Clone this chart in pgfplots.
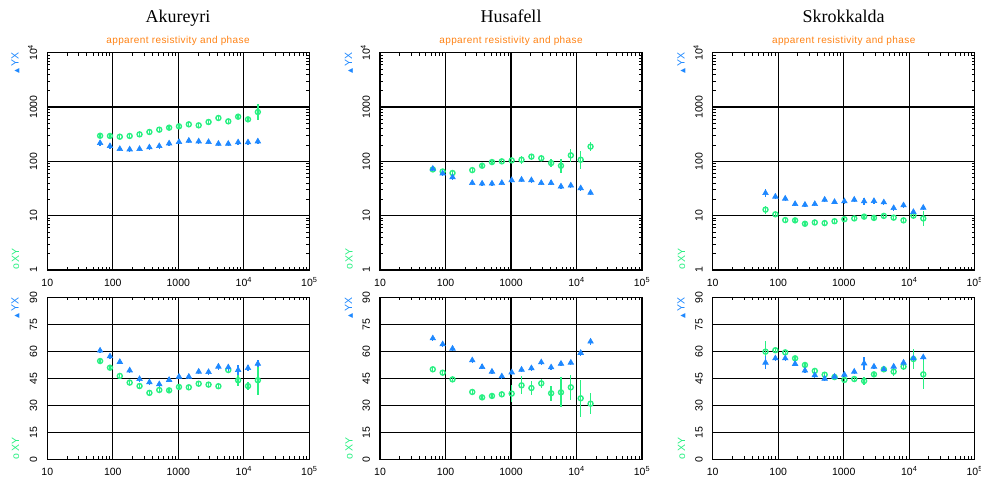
\documentclass[border=0pt]{standalone}
\usepackage{graphicx}
\usepackage{pgfplots}
\pgfplotsset{compat=1.18}
\usepackage{pgfplotstable}
\usepackage{fontspec}
\setmainfont{Liberation Serif}
\newfontfamily\lsans{Liberation Sans}
\newfontfamily\dejavu{DejaVu Sans}
\definecolor{myblue}{RGB}{30,136,255}
\definecolor{mygreen}{RGB}{40,240,130}
\definecolor{myorange}{RGB}{255,130,20}

% ---------------- Akureyri ----------------
\pgfplotstableread{
f v ep em
64 296 0.11 0.10
90.51 293 0.11 0.10
128 284 0.11 0.10
181.02 293 0.11 0.10
256 314 0.11 0.10
362.04 347 0.11 0.10
512 383 0.11 0.10
724.08 417 0.11 0.10
1024 441 0.11 0.10
1448.15 480 0.11 0.10
2048 460 0.11 0.10
2896.31 530 0.11 0.10
4096 628 0.11 0.10
5792.62 545 0.11 0.10
8192 664 0.122 0.109
11585.24 593 0.11 0.10
16384 809 0.403 0.287
}\AkRxy
\pgfplotstableread{
f v ep em
64 217 0.11 0.10
90.51 191 0.11 0.10
128 169 0.11 0.10
181.02 166 0.11 0.10
256 169 0.11 0.10
362.04 181 0.11 0.10
512 191 0.11 0.10
724.08 214 0.11 0.10
1024 227 0.11 0.10
1448.15 240 0.11 0.10
2048 233 0.11 0.10
2896.31 227 0.11 0.10
4096 211 0.11 0.10
5792.62 211 0.11 0.10
8192 224 0.12 0.11
11585.24 224 0.11 0.10
16384 233 0.11 0.10
}\AkRyx
\pgfplotstableread{
f v e
64 54.6 1.4
90.51 50.9 1.4
128 46.3 1.4
181.02 42.6 1.4
256 40.7 1.4
362.04 36.9 1.4
512 38.5 1.4
724.08 38.3 1.4
1024 40.2 1.4
1448.15 40.0 1.4
2048 42.0 1.4
2896.31 41.5 1.5
4096 40.6 1.4
5792.62 49.6 1.9
8192 43.9 3.3
11585.24 40.7 2.4
16384 43.9 8.3
}\AkPxy
\pgfplotstableread{
f v e
64 60.4 1.4
90.51 57.2 1.4
128 54.1 1.4
181.02 49.4 1.4
256 44.6 1.4
362.04 42.8 1.4
512 41.7 1.4
724.08 44.1 1.4
1024 45.9 1.4
1448.15 45.9 1.4
2048 48.7 1.4
2896.31 48.5 1.6
4096 51.5 1.8
5792.62 51.1 1.8
8192 49.6 2.8
11585.24 50.7 1.6
16384 53.1 2.0
}\AkPyx

% ---------------- Husafell ----------------
\pgfplotstableread{
f v ep em
64 71 0.11 0.10
90.51 65 0.11 0.10
128 61 0.11 0.10
256 69 0.11 0.10
362.04 83 0.11 0.10
512 97 0.11 0.10
724.08 100 0.122 0.109
1024 104 0.122 0.109
1448.15 107 0.175 0.149
2048 122 0.122 0.109
2896.31 114 0.11 0.10
4096 93 0.186 0.157
5792.62 83 0.349 0.259
8192 129 0.318 0.241
11585.24 107 0.479 0.324
16384 187 0.23 0.187
}\HuRxy
\pgfplotstableread{
f v ep em
64 73 0.11 0.10
90.51 60 0.11 0.10
128 51 0.11 0.10
256 40 0.11 0.10
362.04 39 0.11 0.10
512 39 0.11 0.10
724.08 40 0.11 0.10
1024 45 0.11 0.10
1448.15 46 0.11 0.10
2048 45 0.11 0.10
2896.31 40 0.11 0.10
4096 40 0.11 0.10
5792.62 34.5 0.11 0.10
8192 36 0.11 0.10
11585.24 32 0.11 0.10
16384 26.4 0.11 0.10
}\HuRyx
\pgfplotstableread{
f v e
64 50.0 1.4
90.51 48.1 1.4
128 44.4 1.4
256 37.4 1.5
362.04 34.4 1.4
512 35.2 1.4
724.08 36.1 1.5
1024 36.5 4.6
1448.15 41.1 5.0
2048 39.6 4.1
2896.31 42.2 2.6
4096 36.7 4.1
5792.62 37.2 8.3
8192 40.0 7.0
11585.24 33.9 10.2
16384 30.9 6.0
}\HuPxy
\pgfplotstableread{
f v e
64 67.2 1.4
90.51 63.9 1.4
128 61.5 1.4
256 55.0 1.4
362.04 51.3 1.4
512 48.7 1.4
724.08 46.1 1.4
1024 48.3 1.4
1448.15 49.8 1.4
2048 50.6 1.4
2896.31 53.9 1.4
4096 51.1 1.4
5792.62 53.1 1.4
8192 53.7 1.4
11585.24 59.1 1.6
16384 65.4 2.0
}\HuPyx

% ---------------- Skrokkalda ----------------
\pgfplotstableread{
f v ep em
64 12.9 0.186 0.157
90.51 10.6 0.11 0.10
128 8.3 0.11 0.10
181.02 8.2 0.11 0.10
256 7.1 0.11 0.10
362.04 7.5 0.11 0.10
512 7.3 0.11 0.10
724.08 7.9 0.11 0.10
1024 8.6 0.11 0.10
1448.15 8.9 0.11 0.10
2048 9.6 0.11 0.10
2896.31 9.1 0.11 0.10
4096 9.9 0.11 0.10
5792.62 9.2 0.11 0.10
8192 8.2 0.11 0.10
11585.24 10.0 0.148 0.129
16384 8.9 0.365 0.267
}\SkRxy
\pgfplotstableread{
f v ep em
64 26.1 0.186 0.157
90.51 22.4 0.11 0.10
128 20.6 0.11 0.10
181.02 16.4 0.11 0.10
256 15.9 0.11 0.10
362.04 16.4 0.11 0.10
512 19.7 0.11 0.10
724.08 17.9 0.11 0.10
1024 18.4 0.11 0.10
1448.15 19.7 0.11 0.10
2048 18.4 0.148 0.129
2896.31 18.6 0.11 0.10
4096 17.6 0.11 0.10
5792.62 13.8 0.11 0.10
8192 15.5 0.11 0.10
11585.24 11.7 0.11 0.10
16384 14.0 0.11 0.10
}\SkRyx
\pgfplotstableread{
f v e
64 59.8 6.1
90.51 60.6 1.4
128 59.4 1.4
181.02 56.1 1.4
256 52.4 1.4
362.04 49.1 1.4
512 47.0 1.4
724.08 45.7 1.4
1024 44.1 1.4
1448.15 44.6 1.4
2048 43.5 2.2
2896.31 47.2 1.4
4096 50.0 1.5
5792.62 48.7 2.2
8192 51.5 1.9
11585.24 55.7 5.6
16384 47.2 8.3
}\SkPxy
\pgfplotstableread{
f v e
64 53.7 3.7
90.51 56.1 1.4
128 56.1 1.4
181.02 53.0 1.4
256 49.3 1.4
362.04 46.7 1.4
512 44.8 1.4
724.08 45.9 1.4
1024 47.0 1.4
1448.15 48.7 1.4
2048 53.3 3.7
2896.31 51.5 1.4
4096 50.0 1.4
5792.62 51.5 1.4
8192 53.7 1.8
11585.24 56.1 1.4
16384 56.7 1.4
}\SkPyx

\pgfplotsset{every axis/.append style={
    scale only axis, width=262pt,
    xmode=log, xmin=10, xmax=100000,
    xtick={10,100,1000,10000,100000},
    xticklabels={10,100,1000,10\textsuperscript{4},10\textsuperscript{5}},
    minor xtick={20,30,40,50,60,70,80,90,200,300,400,500,600,700,800,900,2000,3000,4000,5000,6000,7000,8000,9000,20000,30000,40000,50000,60000,70000,80000,90000},
    grid=major, major grid style={black, line width=1.05pt},
    minor grid style={draw=none},
    axis line style={black, line width=1.2pt},
    tick style={black, line width=0.9pt},
    tick align=inside, major tick length=4pt, minor tick length=3pt,
    tick label style={font=\lsans\fontsize{10.5}{12}\selectfont},
    xticklabel style={anchor=north, inner xsep=0pt, inner ysep=8.5pt, text height=7.5pt, text depth=0pt},
    yticklabel style={rotate=90, anchor=south, inner xsep=0pt, inner ysep=10pt, text depth=0pt},
}}

\newcommand{\rhoaxis}[1]{\begin{axis}[height=217.3pt, at={(#1pt,208pt)}, anchor=south west,
    ymode=log, ymin=1, ymax=10000,
    ytick={1,10,100,1000,10000},
    yticklabels={1,10,100,1000,10\textsuperscript{4}},
    minor ytick={2,3,4,5,6,7,8,9,20,30,40,50,60,70,80,90,200,300,400,500,600,700,800,900,2000,3000,4000,5000,6000,7000,8000,9000}]}
\newcommand{\phaxis}[1]{\begin{axis}[height=162pt, at={(#1pt,18.7pt)}, anchor=south west,
    ymin=0, ymax=90,
    ytick={0,15,30,45,60,75,90},
    yticklabels={0,15,30,45,60,75,90}]}

\newcommand{\rhoplots}[2]{%
  \addplot[only marks, mark=o, mark size=2.5pt, color=mygreen, line width=1.4pt,
    error bars/y dir=both, error bars/y explicit relative,
    error bars/error bar style={line width=1.3pt, draw=mygreen, solid},
    error bars/error mark=none]
    table[x=f, y=v, y error plus=ep, y error minus=em] {#1};
  \addplot[only marks, mark=triangle*, mark size=3.2pt, color=myblue, line width=0.6pt,
    error bars/y dir=both, error bars/y explicit relative,
    error bars/error bar style={line width=1.3pt, draw=myblue, solid},
    error bars/error mark=none]
    table[x=f, y=v, y error plus=ep, y error minus=em] {#2};
}
\newcommand{\phplots}[2]{%
  \addplot[only marks, mark=o, mark size=2.5pt, color=mygreen, line width=1.4pt,
    error bars/y dir=both, error bars/y explicit,
    error bars/error bar style={line width=1.3pt, draw=mygreen, solid},
    error bars/error mark=none]
    table[x=f, y=v, y error=e] {#1};
  \addplot[only marks, mark=triangle*, mark size=3.2pt, color=myblue, line width=0.6pt,
    error bars/y dir=both, error bars/y explicit,
    error bars/error bar style={line width=1.3pt, draw=myblue, solid},
    error bars/error mark=none]
    table[x=f, y=v, y error=e] {#2};
}
\newcommand{\sidelabels}[3]{%
  \node[rotate=90, anchor=east, text=myblue, font=\lsans\fontsize{10.5}{12}\selectfont, inner sep=0pt] at (#1pt,#2pt) {{\dejavu\fontsize{6.5}{7}\selectfont ▲}\,YX};
  \node[rotate=90, anchor=west, text=mygreen, font=\lsans\fontsize{10.5}{12}\selectfont, inner sep=0pt] at (#1pt,#3pt) {o\,XY};
}

\begin{document}
\begin{tikzpicture}
\path[use as bounding box] (0pt,0pt) rectangle (981pt,478pt);

% titles
\node[anchor=base, font=\fontsize{18}{20}\selectfont] at (178pt,455.7pt) {Akureyri};
\node[anchor=base, font=\fontsize{18}{20}\selectfont] at (511pt,455.7pt) {Husafell};
\node[anchor=base, font=\fontsize{18}{20}\selectfont] at (843.7pt,455.7pt) {Skrokkalda};
\node[anchor=base, text=myorange, font=\lsans\fontsize{10}{12}\selectfont] at (178pt,434pt) {\addfontfeatures{LetterSpace=4}apparent resistivity and phase};
\node[anchor=base, text=myorange, font=\lsans\fontsize{10}{12}\selectfont] at (511pt,434pt) {\addfontfeatures{LetterSpace=4}apparent resistivity and phase};
\node[anchor=base, text=myorange, font=\lsans\fontsize{10}{12}\selectfont] at (843.7pt,434pt) {\addfontfeatures{LetterSpace=4}apparent resistivity and phase};

% Akureyri
\rhoaxis{47.3}
\rhoplots{\AkRxy}{\AkRyx}
\end{axis}
\phaxis{47.3}
\phplots{\AkPxy}{\AkPyx}
\end{axis}

% Husafell
\rhoaxis{380}
\rhoplots{\HuRxy}{\HuRyx}
\end{axis}
\phaxis{380}
\phplots{\HuPxy}{\HuPyx}
\end{axis}

% Skrokkalda
\rhoaxis{712.7}
\rhoplots{\SkRxy}{\SkRyx}
\end{axis}
\phaxis{712.7}
\phplots{\SkPxy}{\SkPyx}
\end{axis}

\sidelabels{15.5}{425.3}{208}
\sidelabels{15.5}{180.7}{18.7}
\sidelabels{349}{425.3}{208}
\sidelabels{349}{180.7}{18.7}
\sidelabels{681.5}{425.3}{208}
\sidelabels{681.5}{180.7}{18.7}
\end{tikzpicture}
\end{document}
